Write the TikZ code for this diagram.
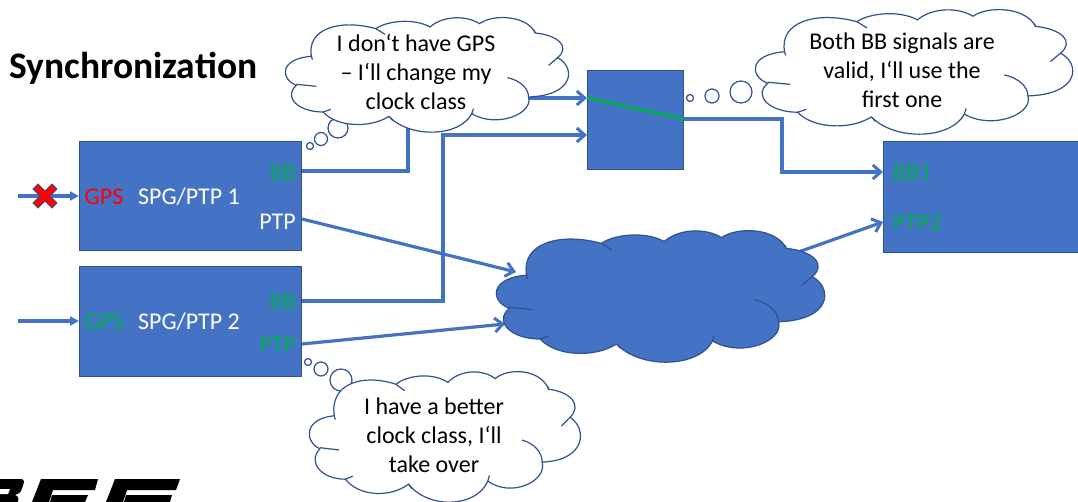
\documentclass[tikz,border=0pt]{standalone}
\usepackage{fontspec}
\setmainfont{Carlito}
\usetikzlibrary{arrows.meta}
\definecolor{boxblue}{HTML}{4472C4}
\definecolor{edgeblue}{HTML}{2F528F}
\definecolor{okgreen}{HTML}{00B050}
\newcommand{\cloudshape}[5]{%
\begin{scope}[shift={(#1,#2)},xscale=#3/844,yscale=#4/345,shift={(-46,-50)}]
\draw[#5,draw=edgeblue,line width=1.2pt] (125,168)
 .. controls (110,85) and (210,55) .. (318,85)
 .. controls (350,62) and (430,52) .. (480,80)
 .. controls (520,45) and (590,45) .. (628,70)
 .. controls (670,40) and (770,45) .. (795,98)
 .. controls (865,105) and (900,140) .. (862,172)
 .. controls (915,200) and (915,285) .. (775,290)
 .. controls (790,340) and (680,385) .. (605,340)
 .. controls (570,410) and (420,415) .. (357,348)
 .. controls (300,385) and (200,380) .. (160,335)
 .. controls (85,335) and (40,290) .. (80,255)
 .. controls (30,235) and (30,175) .. (125,168) -- cycle;
\draw[edgeblue,line width=1.2pt]
 (318,85) -- (345,102) (795,98) -- (792,90) (862,172) -- (835,195)
 (712,232) .. controls (750,240) and (775,265) .. (775,290)
 (605,340) -- (610,325) (357,348) -- (368,360) (160,335) -- (183,327)
 (80,252) -- (140,258) (125,168) -- (128,178);
\end{scope}}
\tikzset{
 bx/.style={draw=edgeblue,fill=boxblue,line width=1pt,inner sep=0pt,minimum width=#1},
 wire/.style={draw=boxblue,line width=3.2pt,line join=miter},
 barb/.style={-{Straight Barb[length=8pt,width=14pt,line width=3pt]}},
 tri/.style={-{Triangle[length=9pt,width=9pt]}},
 lbl/.style={font=\fontsize{24}{29}\selectfont,inner sep=0pt},
 say/.style={font=\fontsize{24}{29}\selectfont,align=center,inner sep=0pt,text=black},
 bub/.style={draw=edgeblue,fill=white,line width=1.2pt},
}
\begin{document}
\begin{tikzpicture}[x=1pt,y=-1pt]
\useasboundingbox (0,0) rectangle (1078,502);
\clip (0,0) rectangle (1078,502);
% logo
\fill[black] (0,479) -- (20,479) .. controls (24,479) and (24.5,481) .. (23.5,484) -- (21,491) .. controls (20,493) and (18,494) .. (15,495) .. controls (18,496) and (19,498) .. (18,502) -- (0,502) -- cycle;
\fill[white] (0,489) -- (10,489) -- (8,494) -- (0,494) -- cycle;
\fill[black] (41,479) -- (98,479) -- (95,490) -- (53,490) -- (49,502) -- (32,502) -- cycle;
\fill[black] (52,495) -- (88,495) -- (85,502) -- (50,502) -- cycle;
\fill[black] (115,479) -- (180,479) -- (176,490) -- (127,490) -- (123,502) -- (106,502) -- cycle;
\fill[black] (126,495) -- (172,495) -- (170,502) -- (124,502) -- cycle;
% boxes
\node[bx=222pt,minimum height=109pt,anchor=north west] (spg1) at (79,141) {};
\node[bx=222pt,minimum height=110pt,anchor=north west] (spg2) at (79,266) {};
\node[bx=96pt,minimum height=99pt,anchor=north west] (sw) at (587,70) {};
\node[bx=210pt,minimum height=111pt,anchor=north west] (rx) at (883,141) {};
% named ends
\coordinate (in1) at (18,196);
\coordinate (in2) at (18,321);
\coordinate (s1bb) at (spg1.north east |- 0,171);
\coordinate (s1ptp) at (spg1.north east |- 0,219);
\coordinate (s2bb) at (spg2.north east |- 0,301);
\coordinate (s2ptp) at (spg2.north east |- 0,344);
\coordinate (swa) at (sw.north west |- 0,98);
\coordinate (swb) at (sw.north west |- 0,135);
\coordinate (swo) at (sw.north east |- 0,119);
\coordinate (rxa) at (rx.north west |- 0,172);
\coordinate (rxb) at (rx.north west |- 0,222);
\coordinate (n1) at (516,272);
\coordinate (n2) at (505,324);
\coordinate (n3) at (790,255);
% connectors
\draw[wire,tri] (in1) -- (in1 -| spg1.west);
\draw[wire,tri] (in2) -- (in2 -| spg2.west);
\draw[wire,barb] (s1bb) -- (408,171) -- (408,98) -- (swa);
\draw[wire,barb] (s2bb) -- (443,301) -- (443,135) -- (swb);
\draw[wire,barb] (swo) -- (782,119) -- (782,172) -- (rxa);
\draw[wire,barb] (s1ptp) -- (n1);
\draw[wire,barb] (s2ptp) -- (n2);
\draw[wire,barb] (n3) -- (rxb);
\draw[okgreen,line width=3pt] (swa) -- (swo);
% red cross
\fill[red,draw=edgeblue,line width=1pt,shift={(45,196)}]
 (-12,-7) -- (-7,-12) -- (0,-5) -- (7,-12) -- (12,-7) -- (5,0) -- (12,7) -- (7,12) -- (0,5) -- (-7,12) -- (-12,7) -- (-5,0) -- cycle;
% thought bubbles
\draw[bub] (310,146) circle[radius=3.5];
\draw[bub] (321,139) circle[radius=6.5];
\draw[bub] (338,128) circle[radius=10];
\draw[bub] (690,98) circle[radius=3.5];
\draw[bub] (712,96) circle[radius=7];
\draw[bub] (741,92) circle[radius=11];
\draw[bub] (308,362) circle[radius=3.5];
\draw[bub] (321,369) circle[radius=7];
\draw[bub] (341,380) circle[radius=11];
% clouds
\cloudshape{496}{230}{327}{132}{fill=boxblue}
\cloudshape{285}{17}{282}{115}{fill=white}
\cloudshape{755}{9}{316}{125}{fill=white}
\cloudshape{309}{371}{270}{131}{fill=white}
% text
\node[anchor=west,inner sep=0pt,font=\fontsize{37.5}{40}\selectfont\bfseries] (title) at (9,68) {Synchronization};
\node[lbl,text=red] (g1) at (104,197) {GPS};
\node[lbl,text=white] (p1) at (189,197) {SPG/PTP 1};
\node[lbl,text=okgreen,anchor=east] (b1) at (296,173) {BB};
\node[lbl,text=white,anchor=east] (q1) at (296,222) {PTP};
\node[lbl,text=okgreen] (g2) at (104,322) {GPS};
\node[lbl,text=white] (p2) at (189,322) {SPG/PTP 2};
\node[lbl,text=okgreen,anchor=east] (b2) at (296,302) {BB};
\node[lbl,text=okgreen,anchor=east] (q2) at (296,345) {PTP};
\node[lbl,text=okgreen,anchor=west] (r1) at (893,173) {BB1};
\node[lbl,text=okgreen,anchor=west] (r2) at (893,223) {PTP2};
\node[say] (c1) at (416,72) {I don‘t have GPS\\– I‘ll change my\\clock class};
\node[say] (c2) at (902,70) {Both BB signals are\\valid, I‘ll use the\\first one};
\node[say] (c3) at (434,435) {I have a better\\clock class, I‘ll\\take over};
\end{tikzpicture}
\end{document}
